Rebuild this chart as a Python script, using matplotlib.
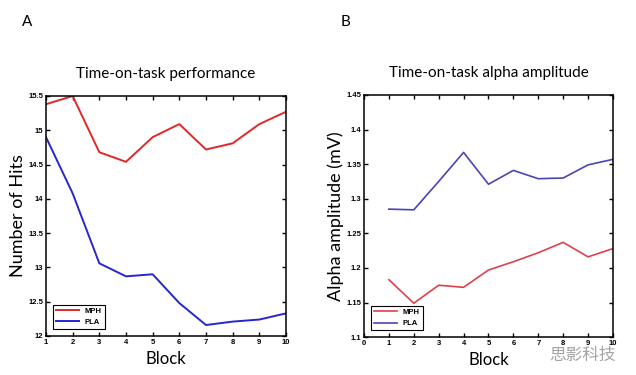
# Time-on-task: performance (A) e ampiezza alpha (B), MPH vs PLA
import matplotlib
matplotlib.use("Agg")
import matplotlib.pyplot as plt

blocks = [1, 2, 3, 4, 5, 6, 7, 8, 9, 10]

# pannello A - numero di hits
hits_mph = [15.38, 15.50, 14.68, 14.54, 14.90, 15.09, 14.72, 14.81, 15.09, 15.27]
hits_pla = [14.90, 14.08, 13.06, 12.87, 12.90, 12.48, 12.16, 12.21, 12.24, 12.33]

# pannello B - ampiezza alpha (mV)
alpha_mph = [1.183, 1.149, 1.175, 1.172, 1.197, 1.209, 1.222, 1.237, 1.216, 1.228]
alpha_pla = [1.285, 1.284, 1.325, 1.367, 1.321, 1.341, 1.329, 1.330, 1.349, 1.357]

hits_ticks = [12, 12.5, 13, 13.5, 14, 14.5, 15, 15.5]
alpha_ticks = [1.1, 1.15, 1.2, 1.25, 1.3, 1.35, 1.4, 1.45]

title_font = "Lato"
tick_font = "Liberation Sans"


def style_axes(ax):
    ax.tick_params(direction="in", length=3, width=1, top=True, right=True,
                   labelsize=5.5, pad=2)
    for lab in ax.get_xticklabels() + ax.get_yticklabels():
        lab.set_fontfamily(tick_font)
        lab.set_fontweight("bold")
    for s in ax.spines.values():
        s.set_linewidth(1.1)


fig = plt.figure(figsize=(6.36, 3.75), dpi=100)

# Pannello A
ax1 = fig.add_axes([0.0723, 0.104, 0.3774, 0.640])
ax1.plot(blocks, hits_mph, color="#e02828", lw=1.4, label="MPH")
ax1.plot(blocks, hits_pla, color="#2626d0", lw=1.4, label="PLA")
ax1.set_xlim(1, 10)
ax1.set_ylim(12, 15.5)
ax1.set_xticks(blocks)
ax1.set_yticks(hits_ticks)
ax1.set_yticklabels([f"{t:g}" for t in hits_ticks])
style_axes(ax1)
ax1.set_xlabel("Block", fontsize=12, family=title_font, labelpad=4)
ax1.set_ylabel("Number of Hits", fontsize=13, family=title_font, labelpad=2)
ax1.set_title("Time-on-task performance", fontsize=11, family=title_font, pad=13)
leg1 = ax1.legend(loc="lower left", prop={"family": tick_font, "weight": "bold", "size": 5.5},
                  fancybox=False, edgecolor="black", handlelength=3.0,
                  borderaxespad=0.9, framealpha=1)
leg1.get_frame().set_linewidth(0.8)

# Pannello B
ax2 = fig.add_axes([0.5723, 0.101, 0.3915, 0.6457])
ax2.plot(blocks, alpha_mph, color="#e0404c", lw=1.2, label="MPH")
ax2.plot(blocks, alpha_pla, color="#4a44b8", lw=1.2, label="PLA")
ax2.set_xlim(0, 10)
ax2.set_ylim(1.1, 1.45)
ax2.set_xticks(range(0, 11))
ax2.set_yticks(alpha_ticks)
ax2.set_yticklabels([f"{t:g}" for t in alpha_ticks])
style_axes(ax2)
ax2.set_xlabel("Block", fontsize=12, family=title_font, labelpad=4)
ax2.set_ylabel("Alpha amplitude (mV)", fontsize=13, family=title_font, labelpad=2)
ax2.set_title("Time-on-task alpha amplitude", fontsize=11, family=title_font, pad=13)
leg2 = ax2.legend(loc="lower left", prop={"family": tick_font, "weight": "bold", "size": 5.5},
                  fancybox=False, edgecolor="black", handlelength=3.0,
                  borderaxespad=0.9, framealpha=1)
leg2.get_frame().set_linewidth(0.8)

# lettere dei pannelli
fig.text(0.035, 0.94, "A", fontsize=11, family=title_font, va="center")
fig.text(0.535, 0.94, "B", fontsize=11, family=title_font, va="center")

# watermark
fig.text(0.915, 0.052, "思影科技", fontsize=12, color="#9a9a9a", alpha=0.9,
         family=["Noto Sans CJK SC", "DejaVu Sans"], ha="center", va="center")

fig.savefig("out.png", dpi=100)
